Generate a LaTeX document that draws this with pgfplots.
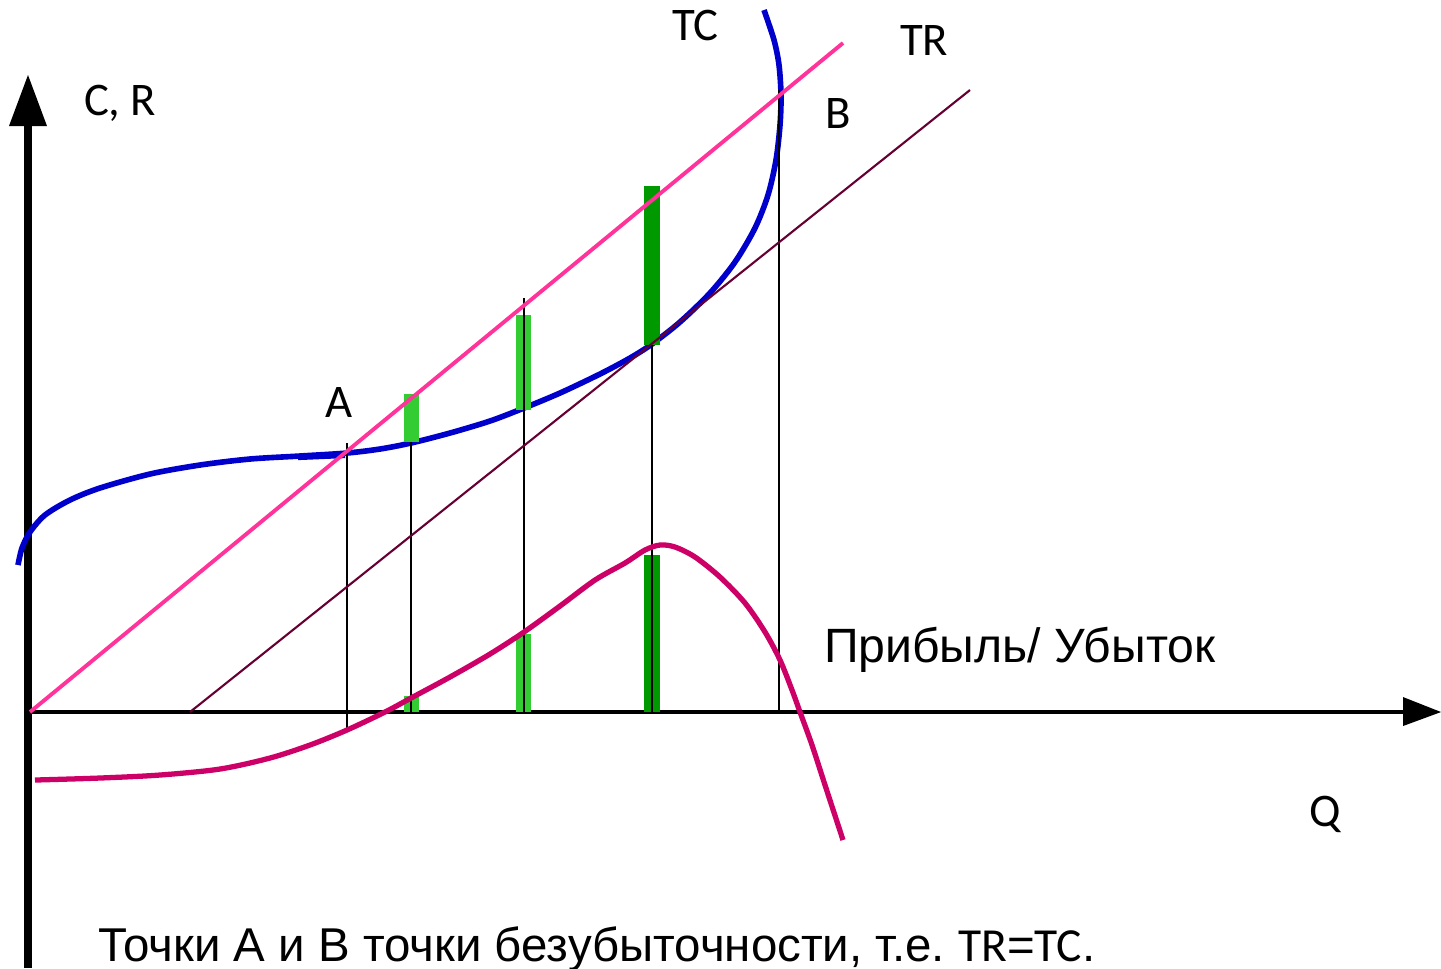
\documentclass[border=0pt]{standalone}
\usepackage{pgfplots}
\pgfplotsset{compat=1.18}
\usepackage{fontspec}
\setmainfont{Liberation Sans}
\newfontfamily\calfont{Carlito}
\definecolor{tcblue}{HTML}{0000CC}
\definecolor{trpink}{HTML}{FF3399}
\definecolor{maroon}{HTML}{660033}
\definecolor{profit}{HTML}{CC0066}
\definecolor{lgreen}{HTML}{33CC33}
\definecolor{dgreen}{HTML}{009900}
\tikzset{lbl/.style={inner sep=0pt, outer sep=0pt, anchor=base west, font=\calfont\fontsize{13.3}{15}\selectfont}}
\begin{document}
\begin{tikzpicture}
\begin{axis}[
  width=14.41cm, height=9.68cm, scale only axis,
  xmin=0, xmax=1441, ymin=0, ymax=968, y dir=reverse,
  hide axis, clip=false,
]
\coordinate (ll) at (axis cs:0,968);
\coordinate (ur) at (axis cs:1441,0);
% axes
\addplot[black, line width=2.3pt] coordinates {(28,968) (28,120)};
\addplot[fill=black, draw=none] coordinates {(9,126) (28,75) (47,126)} -- cycle;
\addplot[black, line width=1.4pt] coordinates {(28,712) (1405,712)};
\addplot[fill=black, draw=none] coordinates {(1403,697) (1441,712) (1403,726)} -- cycle;
% TC curve
\addplot[tcblue, line width=1.6pt, smooth, tension=0.5] coordinates {
(18,565) (22,548) (30,532) (45,515) (70,500) (100,488) (150,474) (200,465)
(250,459) (300,456) (347,453) (380,449) (411,443) (450,433) (490,421)
(524,408) (560,393) (600,374) (630,358) (652,344) (680,322) (710,293)
(735,262) (755,228) (768,195) (776,160) (780,125) (781,95) (779,65)
(774,40) (764,10)};
\addplot[tcblue, line width=1.2pt] coordinates {(298,458) (345,456)};
% bars
\addplot[fill=lgreen, draw=none] coordinates {(404,394) (419,394) (419,442) (404,442)} -- cycle;
\addplot[fill=lgreen, draw=none] coordinates {(516,315) (531,315) (531,410) (516,410)} -- cycle;
\addplot[fill=dgreen, draw=none] coordinates {(644,186) (660,186) (660,345) (644,345)} -- cycle;
\addplot[fill=lgreen, draw=none] coordinates {(404,696) (419,696) (419,712) (404,712)} -- cycle;
\addplot[fill=lgreen, draw=none] coordinates {(516,634) (531,634) (531,712) (516,712)} -- cycle;
\addplot[fill=dgreen, draw=none] coordinates {(644,555) (660,555) (660,712) (644,712)} -- cycle;
% verticals
\addplot[black, line width=0.6pt] coordinates {(347,443) (347,730)};
\addplot[black, line width=0.6pt] coordinates {(411,442) (411,712)};
\addplot[black, line width=0.6pt] coordinates {(524,298) (524,712)};
\addplot[black, line width=0.6pt] coordinates {(652,345) (652,712)};
\addplot[black, line width=0.6pt] coordinates {(779,90) (779,712)};
% TR line and shifted line
\addplot[trpink, line width=1.1pt] coordinates {(30,712) (843,43)};
\addplot[maroon, line width=0.6pt] coordinates {(190,712) (970,90)};
% profit curve
\addplot[profit, line width=1.5pt, smooth, tension=0.5] coordinates {
(35,780) (100,778) (160,775) (220,769) (270,758) (310,745) (347,730)
(385,712) (411,698) (450,677) (490,654) (524,632) (560,606) (595,580)
(625,563) (645,550) (660,545) (675,547) (695,557) (720,577) (745,603)
(765,632) (780,660) (792,690) (800,712) (812,745) (825,785) (843,840)};
% labels
\node[lbl] at (axis cs:84,115) {C, R};
\node[lbl] at (axis cs:672,40) {TC};
\node[lbl] at (axis cs:900,55) {TR};
\node[lbl] at (axis cs:825,128) {B};
\node[lbl] at (axis cs:325,417) {A};
\node[lbl] at (axis cs:1309,826) {Q};
\node[inner sep=0pt, outer sep=0pt, anchor=base west, font=\fontsize{13.7}{16}\selectfont] at (axis cs:824,662) {Прибыль/ Убыток};
\node[inner sep=0pt, outer sep=0pt, anchor=base west, font=\fontsize{13.5}{16}\selectfont] at (axis cs:98,961) {Точки А и В точки безубыточности, т.е.\ {\calfont TR}={\calfont TC}.};
\end{axis}
\pgfresetboundingbox
\path[use as bounding box] (ll) rectangle (ur);
\end{tikzpicture}
\end{document}
